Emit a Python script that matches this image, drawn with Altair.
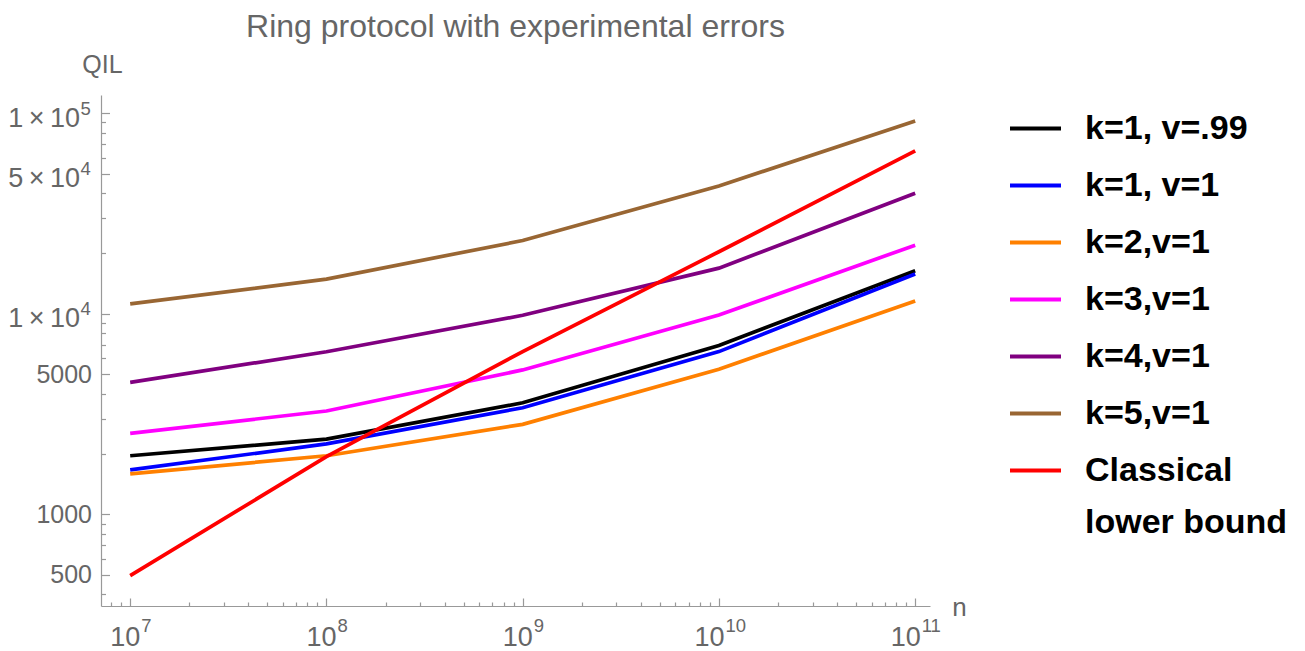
import altair as alt
import pandas as pd

# ---- data ----
n_values = [1e7, 1e8, 1e9, 1e10, 1e11]
series_names = ["k=1, v=.99", "k=1, v=1", "k=2,v=1", "k=3,v=1", "k=4,v=1", "k=5,v=1",
                "Classical lower bound"]
series_colors = ["#000000", "#0000FF", "#FF8000", "#FF00FF", "#800080", "#996633", "#FF0000"]

k1_v099 = [1960, 2370, 3600, 6950, 16400]
k1_v1 = [1665, 2245, 3400, 6480, 15800]
k2_v1 = [1590, 1960, 2810, 5290, 11600]
k3_v1 = [2535, 3275, 5250, 9860, 22000]
k4_v1 = [4550, 6470, 9830, 16900, 39900]
k5_v1 = [11200, 14900, 23200, 43400, 91600]
classical = [495, 1940, 6480, 20400, 64900]

# tick labels: mantissa part and superscript exponent part
x_major = [1e7, 1e8, 1e9, 1e10, 1e11]
x_base_labels = ["10", "10", "10", "10", "10"]
x_exp_labels = ["7", "8", "9", "10", "11"]
x_minor = [8e6, 9e6] + [m * 10 ** e for e in range(7, 11) for m in range(2, 10)]

y_plain = [500, 1000, 5000]
y_plain_labels = ["500", "1000", "5000"]
y_sci = [1e4, 5e4, 1e5]
y_sci_base_labels = ["1\u2009\u00d7\u200910", "5\u2009\u00d7\u200910", "1\u2009\u00d7\u200910"]
y_sci_exp_labels = ["4", "4", "5"]
y_major = y_plain + y_sci
y_minor = [400, 600, 700, 800, 900, 2000, 3000, 4000, 6000, 7000, 8000, 9000,
           20000, 30000, 40000, 60000, 70000, 80000, 90000]

all_series = [k1_v099, k1_v1, k2_v1, k3_v1, k4_v1, k5_v1, classical]
rows = []
for order, (name, vals) in enumerate(zip(series_names, all_series)):
    for n, v in zip(n_values, vals):
        rows.append({"n": n, "QIL": v, "series": name, "order": order})
df = pd.DataFrame(rows)


def label_expr(values, labels):
    expr = "''"
    for v, l in reversed(list(zip(values, labels))):
        expr = f"abs(datum.value/{v!r} - 1) < 1e-6 ? '{l}' : ({expr})"
    return expr


FONT = "Liberation Sans"
GRAY_TXT = "#666666"
GRAY_AX = "#999999"

xscale = alt.Scale(type="log", domain=[7.1e6, 1.19e11], nice=False, zero=False)
yscale = alt.Scale(type="log", domain=[349, 123400], nice=False, zero=False)

main_x_axis = alt.Axis(values=x_major, orient="bottom", labels=False, ticks=False,
                       tickSize=0, grid=False, domainColor=GRAY_AX, domainWidth=1.2,
                       title="n", titleFont=FONT, titleFontSize=26, titleColor=GRAY_TXT,
                       titleFontWeight="normal", titleAngle=0, titleX=858, titleY=9,
                       titleAlign="center", titleBaseline="alphabetic")
main_y_axis = alt.Axis(values=y_major, orient="left", labels=False, ticks=False,
                       tickSize=0, grid=False, domainColor=GRAY_AX, domainWidth=1.2,
                       title="QIL", titleFont=FONT, titleFontSize=25, titleColor=GRAY_TXT,
                       titleFontWeight="normal", titleAngle=0, titleX=1, titleY=-23,
                       titleAlign="center", titleBaseline="alphabetic")


def tick_axis(values, orient, size):
    return alt.Axis(values=values, orient=orient, offset=-size, tickSize=size,
                    tickColor=GRAY_AX, tickWidth=1.2, labels=False, domain=False,
                    grid=False)


def label_axis(values, labels, orient, size, padding, offset, align, baseline):
    return alt.Axis(values=values, labelExpr=label_expr(values, labels), orient=orient,
                    ticks=False, tickSize=0, domain=False, grid=False,
                    labelFont=FONT, labelFontSize=size, labelColor=GRAY_TXT,
                    labelPadding=padding, labelOffset=offset, labelAlign=align,
                    labelBaseline=baseline, labelFlush=False, labelOverlap=False,
                    labelBound=False)


lines = alt.Chart(df).mark_line(strokeWidth=3.7).encode(
    x=alt.X("n:Q", scale=xscale, axis=main_x_axis),
    y=alt.Y("QIL:Q", scale=yscale, axis=main_y_axis),
    color=alt.Color("series:N",
                    scale=alt.Scale(domain=series_names, range=series_colors),
                    legend=alt.Legend(
                        title=None, orient="none", legendX=907, legendY=6,
                        symbolType="stroke", symbolSize=2601, symbolStrokeWidth=4,
                        labelFont=FONT, labelFontSize=34, labelFontWeight="bold",
                        labelColor="#000000", labelOffset=22, labelLimit=400,
                        rowPadding=12, padding=0,
                        labelExpr="datum.label == 'Classical lower bound' ? ['Classical', 'lower bound'] : datum.label")),
    order=alt.Order("order:Q"),
)

ghost = alt.Chart(df).mark_point(opacity=0)

minor_ticks = ghost.encode(
    x=alt.X("n:Q", scale=xscale, axis=tick_axis(x_minor, "bottom", 4), title=None),
    y=alt.Y("QIL:Q", scale=yscale, axis=tick_axis(y_minor, "left", 4.5), title=None),
)
major_ticks = ghost.encode(
    x=alt.X("n:Q", scale=xscale, axis=tick_axis(x_major, "bottom", 8), title=None),
    y=alt.Y("QIL:Q", scale=yscale, axis=tick_axis(y_major, "left", 8.5), title=None),
)

# "10" under x ticks, plain numbers on y
labels_a = ghost.encode(
    x=alt.X("n:Q", scale=xscale, title=None,
            axis=label_axis(x_major, x_base_labels, "bottom", 27, 39,
                            {"condition": {"test": "datum.value > 5e9", "value": -10},
                             "value": -5.5},
                            "center", "alphabetic")),
    y=alt.Y("QIL:Q", scale=yscale, title=None,
            axis=label_axis(y_plain, y_plain_labels, "left", 25, 9.5, 0,
                            "right", "middle")),
)
# superscript exponents on x, "1 x 10" mantissas on y
labels_b = ghost.encode(
    x=alt.X("n:Q", scale=xscale, title=None,
            axis=label_axis(x_major, x_exp_labels, "bottom", 18.5, 25.7,
                            {"condition": {"test": "datum.value > 5e9", "value": 6},
                             "value": 10.5},
                            "left", "alphabetic")),
    y=alt.Y("QIL:Q", scale=yscale, title=None,
            axis=label_axis(y_sci, y_sci_base_labels, "left", 27, 21.5, 5,
                            "right", "middle")),
)
# superscript exponents on y
labels_c = ghost.encode(
    x=alt.X("n:Q", scale=xscale, title=None, axis=None),
    y=alt.Y("QIL:Q", scale=yscale, title=None,
            axis=label_axis(y_sci, y_sci_exp_labels, "left", 18.5, 21, -5,
                            "left", "middle")),
)

chart = alt.layer(lines, minor_ticks, major_ticks, labels_a, labels_b, labels_c).resolve_axis(
    x="independent", y="independent"
).properties(
    width=829, height=511,
    padding={"left": 101, "top": 95, "right": 375, "bottom": 45},
    autosize=alt.AutoSizeParams(type="none"),
    title=alt.TitleParams("Ring protocol with experimental errors", font=FONT,
                          fontSize=32, fontWeight="normal", color=GRAY_TXT,
                          anchor="middle", offset=8),
).configure(
    style={"guide-label": {"lineHeight": 52}}
).configure_view(stroke=None)

chart.save("out.html", embed_options={"renderer": "svg", "actions": False})
